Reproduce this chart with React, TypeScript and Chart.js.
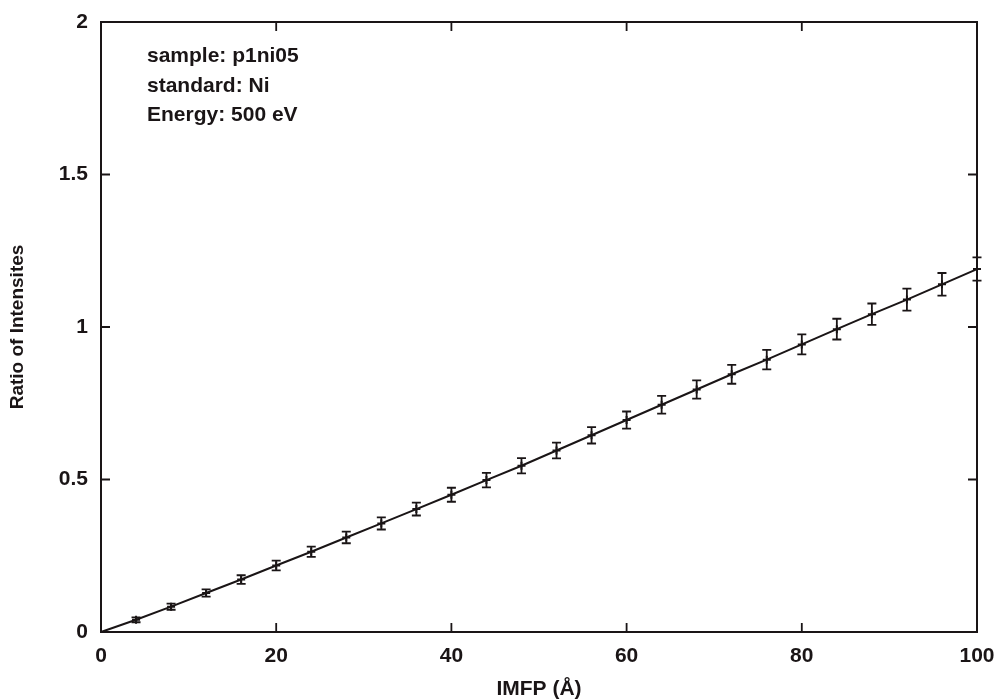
import React, { useEffect, useRef } from "react";
import { Chart, registerables } from "chart.js";

Chart.register(...registerables);

const imfp = [4, 8, 12, 16, 20, 24, 28, 32, 36, 40, 44, 48, 52, 56, 60, 64, 68, 72, 76, 80, 84, 88, 92, 96, 100];
const ratio = [0.040, 0.083, 0.128, 0.172, 0.218, 0.263, 0.310, 0.356, 0.403, 0.450, 0.498, 0.545, 0.595, 0.645, 0.695, 0.745, 0.795, 0.845, 0.893, 0.943, 0.993, 1.042, 1.090, 1.140, 1.190];
const ratioErr = [0.008, 0.010, 0.012, 0.014, 0.016, 0.017, 0.019, 0.020, 0.021, 0.023, 0.024, 0.025, 0.026, 0.027, 0.028, 0.029, 0.030, 0.031, 0.032, 0.033, 0.034, 0.035, 0.036, 0.037, 0.038];
const originX = 0;
const originY = 0;
const xTicks = [0, 20, 40, 60, 80, 100];
const yTicks = [0, 0.5, 1, 1.5, 2];
const infoLines = ["sample: p1ni05", "standard: Ni", "Energy: 500 eV"];
const xTitle = "IMFP (Å)";
const yTitle = "Ratio of Intensites";

const INK = "#1a1516";
const FONT_FAMILY = "'Liberation Sans', Arial, sans-serif";

const framePlugin = {
  id: "frameTicks",
  afterDatasetsDraw(chart: any) {
    const { ctx, chartArea: a, scales } = chart;
    const xs = scales.x;
    const ys = scales.y;
    ctx.save();
    ctx.strokeStyle = INK;
    ctx.lineWidth = 2;
    ctx.strokeRect(a.left, a.top, a.right - a.left, a.bottom - a.top);
    const tl = 9;
    ctx.lineWidth = 1.8;
    ctx.beginPath();
    xTicks.forEach((v) => {
      const px = xs.getPixelForValue(v);
      ctx.moveTo(px, a.bottom);
      ctx.lineTo(px, a.bottom - tl);
      ctx.moveTo(px, a.top);
      ctx.lineTo(px, a.top + tl);
    });
    yTicks.forEach((v) => {
      const py = ys.getPixelForValue(v);
      ctx.moveTo(a.left, py);
      ctx.lineTo(a.left + tl, py);
      ctx.moveTo(a.right, py);
      ctx.lineTo(a.right - tl, py);
    });
    ctx.stroke();

    // error bars
    ctx.lineWidth = 1.8;
    ctx.beginPath();
    imfp.forEach((x, i) => {
      const px = xs.getPixelForValue(x);
      const pt = ys.getPixelForValue(ratio[i] + ratioErr[i]);
      const pb = ys.getPixelForValue(ratio[i] - ratioErr[i]);
      ctx.moveTo(px, pt);
      ctx.lineTo(px, pb);
      ctx.moveTo(px - 4.5, pt);
      ctx.lineTo(px + 4.5, pt);
      ctx.moveTo(px - 4.5, pb);
      ctx.lineTo(px + 4.5, pb);
    });
    ctx.stroke();

    // info text
    ctx.fillStyle = INK;
    ctx.font = `bold 21px ${FONT_FAMILY}`;
    ctx.textAlign = "left";
    ctx.textBaseline = "alphabetic";
    infoLines.forEach((t, i) => {
      ctx.fillText(t, a.left + 46, a.top + 40 + i * 29.5);
    });
    ctx.restore();
  },
};

export default function App() {
  const ref = useRef<HTMLCanvasElement | null>(null);
  useEffect(() => {
    document.body.style.margin = "0";
    const canvas = ref.current;
    if (!canvas) return;
    const chart = new Chart(canvas, {
      type: "scatter",
      data: {
        datasets: [
          {
            label: "fit",
            data: [{ x: originX, y: originY }, ...imfp.map((x, i) => ({ x, y: ratio[i] }))],
            showLine: true,
            borderColor: INK,
            borderWidth: 2,
            pointRadius: 0,
            tension: 0,
            clip: false as any,
          },
          {
            label: "data",
            data: imfp.map((x, i) => ({ x, y: ratio[i] })),
            showLine: false,
            pointStyle: "cross",
            pointRadius: 4,
            borderColor: INK,
            backgroundColor: INK,
            borderWidth: 2,
            clip: false as any,
          },
        ],
      },
      options: {
        responsive: false,
        animation: false,
        layout: { padding: { left: 0, right: 20, top: 22, bottom: 0 } },
        plugins: {
          legend: { display: false },
          tooltip: { enabled: false },
        },
        scales: {
          x: {
            type: "linear",
            min: 0,
            max: 100,
            afterBuildTicks: (s: any) => {
              s.ticks = xTicks.map((v) => ({ value: v }));
            },
            afterFit: (s: any) => {
              s.height = 68;
              s.paddingLeft = 0;
              s.paddingRight = 0;
            },
            grid: { display: false, drawTicks: false },
            border: { display: false },
            ticks: {
              color: INK,
              font: { family: FONT_FAMILY, size: 21, weight: "bold" },
              padding: 12,
              maxRotation: 0,
              autoSkip: false,
              callback: (v: any) => String(v),
            },
            title: {
              display: true,
              text: xTitle,
              color: INK,
              font: { family: FONT_FAMILY, size: 21, weight: "bold", lineHeight: 1 },
              padding: { top: 0, bottom: 0 },
            },
          },
          y: {
            type: "linear",
            min: 0,
            max: 2,
            afterBuildTicks: (s: any) => {
              s.ticks = yTicks.map((v) => ({ value: v }));
            },
            afterFit: (s: any) => {
              s.width = 101;
              s.paddingTop = 0;
              s.paddingBottom = 0;
            },
            grid: { display: false, drawTicks: false },
            border: { display: false },
            ticks: {
              color: INK,
              font: { family: FONT_FAMILY, size: 21, weight: "bold" },
              padding: 13,
              autoSkip: false,
              callback: (v: any) => String(v),
            },
            title: {
              display: true,
              text: yTitle,
              color: INK,
              font: { family: FONT_FAMILY, size: 19, weight: "bold", lineHeight: 1 },
              padding: { top: 8, bottom: 0 },
            },
          },
        },
      },
      plugins: [framePlugin],
    });
    return () => chart.destroy();
  }, []);
  return (
    <div style={{ position: "absolute", left: 0, top: 0, width: 997, height: 700, background: "#fff" }}>
      <canvas ref={ref} width={997} height={700} />
    </div>
  );
}
